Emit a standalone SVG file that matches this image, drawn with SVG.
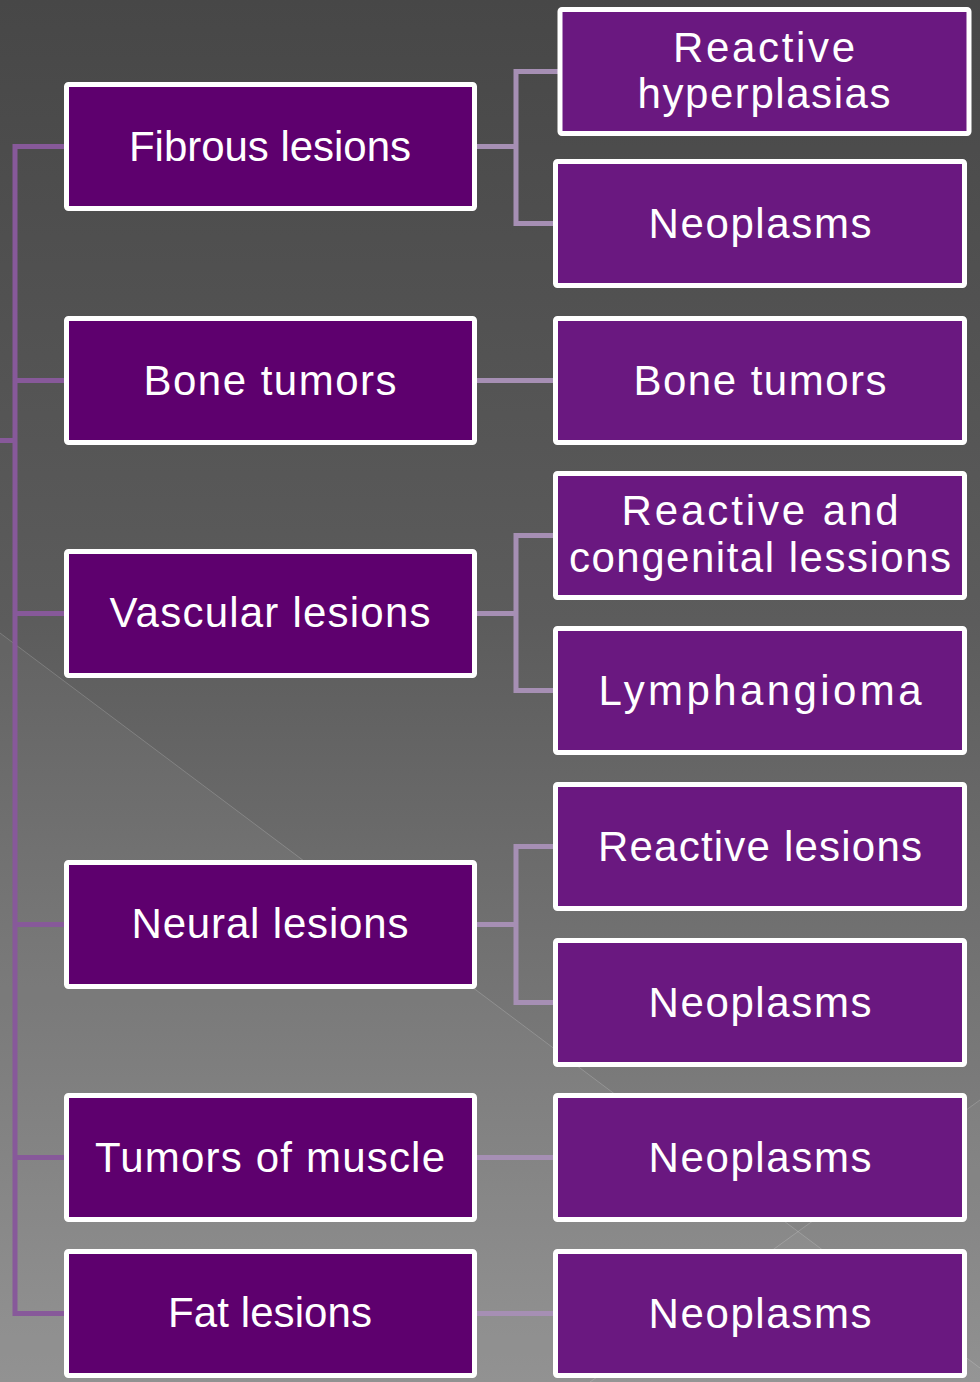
<svg xmlns="http://www.w3.org/2000/svg" width="980" height="1382" viewBox="0 0 980 1382">
<defs>
<linearGradient id="bg" x1="0" y1="0" x2="0" y2="1">
<stop offset="0" stop-color="#474747"/>
<stop offset="0.45" stop-color="#5c5c5c"/>
<stop offset="1" stop-color="#8e8e8e"/>
</linearGradient>
<style>
.lb{fill:#5E006E;stroke:#FFFFFF;stroke-width:5}
.rb{fill:#6A1880;stroke:#FFFFFF;stroke-width:5}
.t{fill:#FFFFFF;font-family:"Liberation Sans",Arial,sans-serif;font-size:42px;text-anchor:middle}
.trunk{fill:none;stroke:#87599A;stroke-width:5}
.br{fill:none;stroke:#A68FB4;stroke-width:5}
.facet{fill:none;stroke:#FFFFFF;stroke-opacity:0.18;stroke-width:1}
</style>
</defs>
<g id="background">
<rect x="0" y="0" width="980" height="1382" fill="url(#bg)"/>
<polygon points="0,633 980,1368 980,1382 0,1382" fill="#FFFFFF" fill-opacity="0.045"/>
<polygon points="590,1382 980,1100 980,1382" fill="#FFFFFF" fill-opacity="0.03"/>
<line class="facet" x1="0" y1="633" x2="980" y2="1368"/>
<line class="facet" x1="590" y1="1382" x2="980" y2="1100"/>
</g>
<g id="connectors">
<path class="trunk" d="M66,146.5 H15 V1313.5 H66"/>
<path class="trunk" d="M15,380.5 H66 M15,613.5 H66 M15,924.5 H66 M15,1157.5 H66 M0,440.5 H15"/>
<path class="br" d="M477,146.5 H516 M558,71.5 H516 V223.5 H555"/>
<path class="br" d="M477,380.5 H555"/>
<path class="br" d="M477,613.5 H516 M555,535.5 H516 V690.5 H555"/>
<path class="br" d="M477,924.5 H516 M555,846.5 H516 V1002.5 H555"/>
<path class="br" d="M477,1157.5 H555"/>
<path class="br" d="M477,1313.5 H555"/>
</g>
<g id="fibrous"><rect class="lb" x="66.5" y="84.5" width="408" height="124" rx="2"/><text class="t" x="270" y="161" textLength="282" lengthAdjust="spacing">Fibrous lesions</text></g>
<g id="bone-left"><rect class="lb" x="66.5" y="318.5" width="408" height="124" rx="2"/><text class="t" x="270" y="395" textLength="253" lengthAdjust="spacing">Bone tumors</text></g>
<g id="vascular"><rect class="lb" x="66.5" y="551.5" width="408" height="124" rx="2"/><text class="t" x="270" y="627" textLength="321" lengthAdjust="spacing">Vascular lesions</text></g>
<g id="neural"><rect class="lb" x="66.5" y="862.5" width="408" height="124" rx="2"/><text class="t" x="270" y="938" textLength="277" lengthAdjust="spacing">Neural lesions</text></g>
<g id="muscle"><rect class="lb" x="66.5" y="1095.5" width="408" height="124" rx="2"/><text class="t" x="270" y="1172" textLength="350" lengthAdjust="spacing">Tumors of muscle</text></g>
<g id="fat"><rect class="lb" x="66.5" y="1251.5" width="408" height="124" rx="2"/><text class="t" x="270" y="1327" textLength="204" lengthAdjust="spacing">Fat lesions</text></g>
<g id="reactive-hyperplasias"><rect class="rb" x="560" y="9.5" width="409" height="124" rx="2"/><text class="t" x="764" y="62" textLength="182" lengthAdjust="spacing">Reactive</text><text class="t" x="764" y="108" textLength="253" lengthAdjust="spacing">hyperplasias</text></g>
<g id="neoplasms-fibrous"><rect class="rb" x="555.5" y="161.5" width="409" height="124" rx="2"/><text class="t" x="760" y="238" textLength="223" lengthAdjust="spacing">Neoplasms</text></g>
<g id="bone-right"><rect class="rb" x="555.5" y="318.5" width="409" height="124" rx="2"/><text class="t" x="760" y="395" textLength="253" lengthAdjust="spacing">Bone tumors</text></g>
<g id="reactive-congenital"><rect class="rb" x="555.5" y="473.5" width="409" height="124" rx="2"/><text class="t" x="760" y="525" textLength="277" lengthAdjust="spacing">Reactive and</text><text class="t" x="760" y="572" textLength="382" lengthAdjust="spacing">congenital lessions</text></g>
<g id="lymphangioma"><rect class="rb" x="555.5" y="628.5" width="409" height="124" rx="2"/><text class="t" x="760" y="705" textLength="323" lengthAdjust="spacing">Lymphangioma</text></g>
<g id="reactive-lesions"><rect class="rb" x="555.5" y="784.5" width="409" height="124" rx="2"/><text class="t" x="760" y="861" textLength="324" lengthAdjust="spacing">Reactive lesions</text></g>
<g id="neoplasms-neural"><rect class="rb" x="555.5" y="940.5" width="409" height="124" rx="2"/><text class="t" x="760" y="1017" textLength="223" lengthAdjust="spacing">Neoplasms</text></g>
<g id="neoplasms-muscle"><rect class="rb" x="555.5" y="1095.5" width="409" height="124" rx="2"/><text class="t" x="760" y="1172" textLength="223" lengthAdjust="spacing">Neoplasms</text></g>
<g id="neoplasms-fat"><rect class="rb" x="555.5" y="1251.5" width="409" height="124" rx="2"/><text class="t" x="760" y="1328" textLength="223" lengthAdjust="spacing">Neoplasms</text></g>
</svg>
